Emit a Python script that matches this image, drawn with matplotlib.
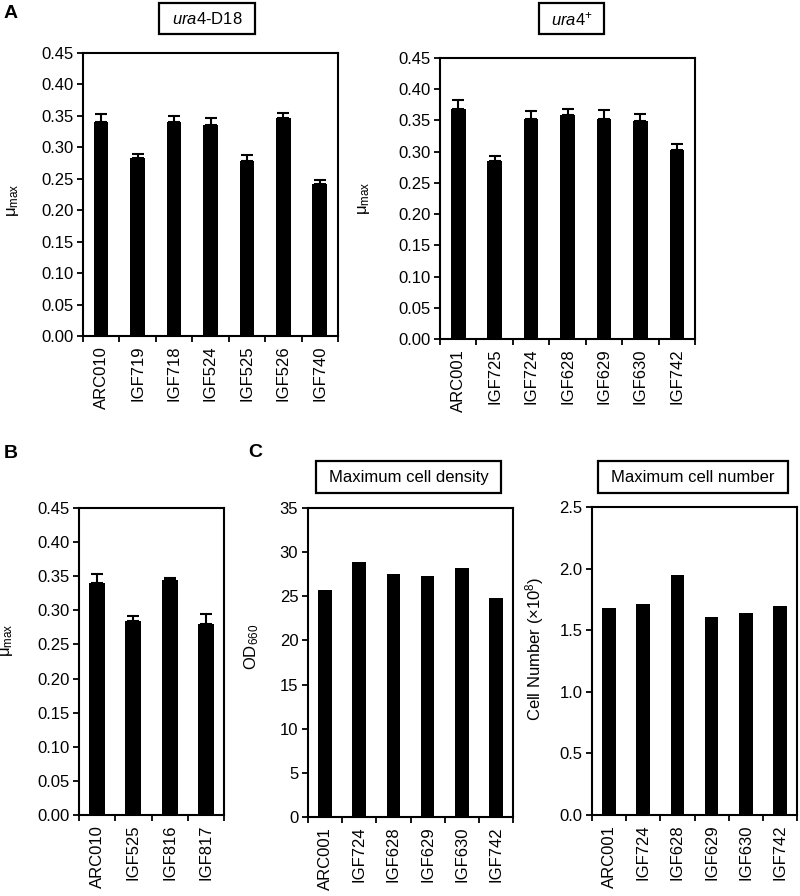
import matplotlib
matplotlib.use('Agg')
import matplotlib.pyplot as plt
import numpy as np
from matplotlib.patches import Rectangle

plt.rcParams['font.family'] = ['Liberation Sans', 'DejaVu Sans']
plt.rcParams['mathtext.fontset'] = 'custom'
plt.rcParams['mathtext.rm'] = 'Liberation Sans'
plt.rcParams['mathtext.it'] = 'Liberation Sans:italic'

# panel A, ura4-D18
strains_d18 = ['ARC010', 'IGF719', 'IGF718', 'IGF524', 'IGF525', 'IGF526', 'IGF740']
mu_d18 = [0.340, 0.283, 0.340, 0.335, 0.278, 0.346, 0.242]
err_d18 = [0.013, 0.006, 0.010, 0.012, 0.010, 0.008, 0.006]

# panel A, ura4+
strains_plus = ['ARC001', 'IGF725', 'IGF724', 'IGF628', 'IGF629', 'IGF630', 'IGF742']
mu_plus = [0.368, 0.285, 0.353, 0.358, 0.352, 0.349, 0.302]
err_plus = [0.015, 0.008, 0.012, 0.010, 0.015, 0.011, 0.010]

# panel B
strains_b = ['ARC010', 'IGF525', 'IGF816', 'IGF817']
mu_b = [0.340, 0.284, 0.345, 0.280]
err_b = [0.013, 0.008, 0.003, 0.015]

# panel C
strains_c = ['ARC001', 'IGF724', 'IGF628', 'IGF629', 'IGF630', 'IGF742']
od660 = [25.7, 28.9, 27.5, 27.3, 28.2, 24.8]
cell_number = [1.68, 1.71, 1.95, 1.61, 1.64, 1.70]

W, H = 800, 896
fig = plt.figure(figsize=(8, 8.96), dpi=100)


def px_axes(x0, y0, x1, y1):
    return fig.add_axes([x0 / W, 1 - y1 / H, (x1 - x0) / W, (y1 - y0) / H])


def bar_panel(ax, names, vals, errs, ymax, step, fmt, ylabel, lab_x, lab_y, width=0.4):
    x = np.arange(len(names))
    ax.bar(x, vals, width=width, color='black')
    if errs is not None:
        ax.errorbar(x, vals, yerr=[np.zeros(len(errs)), errs], fmt='none',
                    ecolor='black', elinewidth=1.5, capsize=4, capthick=1.5)
    ax.set_xlim(-0.5, len(names) - 0.5)
    ax.set_ylim(0, ymax)
    ticks = np.arange(0, ymax + step / 2, step)
    ax.set_yticks(ticks)
    ax.set_yticklabels([fmt.format(v) for v in ticks], fontsize=12)
    ax.set_xticks(x)
    ax.set_xticklabels(names, rotation=90, fontsize=12)
    ax.set_xticks(np.arange(-0.5, len(names)), minor=True)
    ax.tick_params(axis='x', which='major', length=0, pad=7)
    ax.tick_params(axis='x', which='minor', length=4, width=1.3, direction='out')
    ax.tick_params(axis='y', length=4, width=1.3, direction='out', pad=3)
    for s in ax.spines.values():
        s.set_linewidth(1.5)
    ax.set_ylabel(ylabel, fontsize=12)
    ax.yaxis.set_label_coords(lab_x, lab_y)


def title_box(cx, cy, w, h, text, size=12):
    fig.add_artist(Rectangle(((cx - w / 2) / W, 1 - (cy + h / 2) / H), w / W, h / H,
                             transform=fig.transFigure, facecolor='white',
                             edgecolor='black', linewidth=1.6))
    fig.text(cx / W, 1 - cy / H, text, ha='center', va='center', fontsize=size)


mu_label = 'μ$_{\\mathregular{max}}$'

ax1 = px_axes(83, 53, 338, 336)
bar_panel(ax1, strains_d18, mu_d18, err_d18, 0.45, 0.05, '{:.2f}', mu_label, -0.245, 0.48)

ax2 = px_axes(440, 58, 695, 339)
bar_panel(ax2, strains_plus, mu_plus, err_plus, 0.45, 0.05, '{:.2f}', mu_label, -0.265, 0.5)

ax3 = px_axes(79, 508, 224, 815)
bar_panel(ax3, strains_b, mu_b, err_b, 0.45, 0.05, '{:.2f}', mu_label, -0.44, 0.57, width=0.44)

ax4 = px_axes(308, 508, 513, 817)
bar_panel(ax4, strains_c, od660, None, 35, 5, '{:.0f}', 'OD$_{\\mathregular{660}}$', -0.23, 0.55)

ax5 = px_axes(592, 507, 797, 815)
bar_panel(ax5, strains_c, cell_number, None, 2.5, 0.5, '{:.1f}',
          'Cell Number (×10$^{\\mathregular{8}}$)', -0.225, 0.54)

title_box(207, 18.5, 96, 31, '$\\mathit{ura4}$-D18')
title_box(571.5, 19, 65, 31, '$\\mathit{ura4}^{\\mathregular{+}}$')
title_box(408.5, 477, 185, 32, 'Maximum cell density')
title_box(693, 477, 190, 32, 'Maximum cell number')

for letter, lx, ly in [('A', 11, 14), ('B', 11, 453), ('C', 255, 452)]:
    fig.text(lx / W, 1 - ly / H, letter, ha='center', va='center',
             fontsize=14, fontweight='bold')

fig.savefig('out.png', dpi=100)
